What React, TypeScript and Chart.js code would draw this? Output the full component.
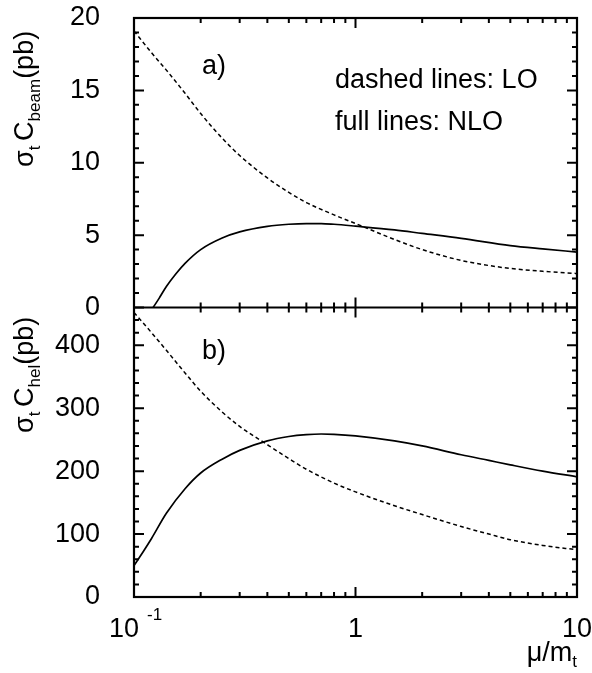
import React, { useEffect, useRef } from 'react';
import { Chart, registerables } from 'chart.js';

Chart.register(...registerables);

// ---- data ----
const xTickValues = [0.1, 1, 10];
const topYTicks = [0, 5, 10, 15, 20];
const botYTicks = [0, 100, 200, 300, 400];

// panel a) sigma_t C_beam (pb)
const beamLoX = [0.1, 0.12, 0.14, 0.17, 0.2, 0.25, 0.3, 0.4, 0.5, 0.6, 0.8, 1, 1.5, 2, 3, 4, 5, 7, 10];
const beamLoY = [19.1, 17.6, 16.4, 14.8, 13.4, 11.7, 10.5, 8.95, 7.95, 7.25, 6.4, 5.8, 4.7, 4.0, 3.25, 2.9, 2.7, 2.5, 2.35];
const beamNloX = [0.122, 0.13, 0.14, 0.155, 0.17, 0.2, 0.25, 0.3, 0.4, 0.5, 0.6, 0.7, 0.8, 1, 1.5, 2, 3, 5, 7, 10];
const beamNloY = [0, 0.65, 1.45, 2.35, 3.05, 4.0, 4.8, 5.22, 5.6, 5.75, 5.8, 5.8, 5.75, 5.62, 5.36, 5.12, 4.78, 4.28, 4.05, 3.83];

// panel b) sigma_t C_hel (pb)
const helLoX = [0.1, 0.12, 0.14, 0.17, 0.2, 0.25, 0.3, 0.4, 0.5, 0.6, 0.8, 1, 1.5, 2, 3, 4, 5, 7, 10];
const helLoY = [452, 420, 392, 356, 327, 294, 271, 242, 220, 203, 181, 167, 145, 131, 112, 100, 91, 82, 75];
const helNloX = [0.1, 0.11, 0.12, 0.14, 0.17, 0.2, 0.25, 0.3, 0.4, 0.5, 0.6, 0.7, 0.8, 1, 1.5, 2, 3, 4, 5, 7, 10];
const helNloY = [50, 72, 93, 133, 172, 197, 219, 233, 248, 255, 258, 259, 258.5, 256, 248, 240, 226, 217, 210, 200, 191];

const FONT = '"Liberation Sans", Arial, Helvetica, sans-serif';
const MAIN = 27;
const SUB = 17;

type Part = [string, number, number];

function drawParts(ctx: CanvasRenderingContext2D, parts: Part[], x: number, y: number) {
  let cx = x;
  for (const [txt, size, dy] of parts) {
    ctx.font = `${size}px ${FONT}`;
    ctx.fillText(txt, cx, y + dy);
    cx += ctx.measureText(txt).width;
  }
}

function partsWidth(ctx: CanvasRenderingContext2D, parts: Part[]) {
  let w = 0;
  for (const [txt, size] of parts) {
    ctx.font = `${size}px ${FONT}`;
    w += ctx.measureText(txt).width;
  }
  return w;
}

const zeroPad = (s: any) => {
  s.paddingTop = 0;
  s.paddingBottom = 0;
  s.paddingLeft = 0;
  s.paddingRight = 0;
};

export default function App() {
  const ref = useRef<HTMLCanvasElement>(null);

  useEffect(() => {
    document.body.style.margin = '0';
    const canvas = ref.current;
    if (!canvas) return;
    const pts = (xs: number[], ys: number[]) => xs.map((x, i) => ({ x, y: ys[i] }));

    const framePlugin = {
      id: 'frame',
      afterDraw(chart: any) {
        const ctx: CanvasRenderingContext2D = chart.ctx;
        const xs = chart.scales.x;
        const yt = chart.scales.yTop;
        const yb = chart.scales.yBot;
        const L = xs.left;
        const R = xs.right;
        ctx.save();
        ctx.strokeStyle = '#000';
        ctx.fillStyle = '#000';
        ctx.lineCap = 'butt';

        // ticks
        ctx.lineWidth = 2;
        const panels = [
          { s: yt, minor: 1, major: 5, max: 20 },
          { s: yb, minor: 20, major: 100, max: 460 },
        ];
        const xMinor: { v: number; major: boolean }[] = [];
        for (const dec of [0.1, 1]) {
          for (let k = 1; k <= 9; k++) xMinor.push({ v: k * dec, major: k === 1 });
        }
        xMinor.push({ v: 10, major: true });

        ctx.beginPath();
        for (const p of panels) {
          for (let i = 0; i * p.minor <= p.max; i++) {
            const v = i * p.minor;
            const len = v % p.major === 0 ? 10 : 5;
            const py = p.s.getPixelForValue(v);
            ctx.moveTo(L, py);
            ctx.lineTo(L + len, py);
            ctx.moveTo(R, py);
            ctx.lineTo(R - len, py);
          }
          for (const t of xMinor) {
            const px = xs.getPixelForValue(t.v);
            const len = t.major ? 10 : 5;
            ctx.moveTo(px, p.s.top);
            ctx.lineTo(px, p.s.top + len);
            ctx.moveTo(px, p.s.bottom);
            ctx.lineTo(px, p.s.bottom - len);
          }
        }
        ctx.stroke();

        // frame
        ctx.lineWidth = 2.2;
        ctx.strokeRect(L, yt.top, R - L, yb.bottom - yt.top);
        ctx.beginPath();
        ctx.moveTo(L, yt.bottom);
        ctx.lineTo(R, yt.bottom);
        ctx.stroke();

        // texts
        ctx.textAlign = 'left';
        ctx.textBaseline = 'alphabetic';
        ctx.font = `${MAIN}px ${FONT}`;
        ctx.fillText('a)', 202, 74);
        ctx.fillText('dashed lines: LO', 335, 88);
        ctx.fillText('full lines: NLO', 335, 130);
        ctx.fillText('b)', 202, 359);

        // 10^-1 label
        ctx.font = `${MAIN}px ${FONT}`;
        ctx.fillText('10', 109, 637);
        ctx.font = `${SUB}px ${FONT}`;
        ctx.fillText('-1', 147, 620);

        // x title
        const xt: Part[] = [['μ/m', MAIN, 0], ['t', SUB, 6]];
        const w = partsWidth(ctx, xt);
        drawParts(ctx, xt, 577 - w, 661);

        // y titles (rotated)
        const yTitle = (x: number, y: number, sub: string) => {
          ctx.save();
          ctx.translate(x, y);
          ctx.rotate(-Math.PI / 2);
          drawParts(ctx, [
            ['σ', MAIN, 0],
            ['t', SUB, 7],
            [' ', SUB, 0],
            ['C', MAIN, 0],
            [sub, SUB, 7],
            ['(pb)', MAIN, 0],
          ], 0, 0);
          ctx.restore();
        };
        yTitle(33, 167, 'beam');
        yTitle(33, 433, 'hel');
        ctx.restore();
      },
    };

    const line = (data: any, yAxisID: string, dashed: boolean) => ({
      data,
      xAxisID: 'x',
      yAxisID,
      borderColor: '#000',
      borderWidth: dashed ? 1.5 : 1.7,
      borderDash: dashed ? [4, 3] : [],
      pointRadius: 0,
      fill: false,
      cubicInterpolationMode: 'monotone' as const,
    });

    const yCommon = (min: number, max: number, values: number[]) => ({
      type: 'linear' as const,
      position: 'left' as const,
      stack: 'panels',
      stackWeight: 1,
      min,
      max,
      grid: { display: false, drawTicks: false },
      border: { display: false },
      afterBuildTicks: (s: any) => {
        s.ticks = values.map((v) => ({ value: v }));
      },
      afterFit: (s: any) => {
        s.width = 134;
        zeroPad(s);
      },
      ticks: {
        padding: 34,
        color: '#000',
        font: { size: MAIN, family: FONT },
      },
    });

    const chart = new Chart(canvas, {
      type: 'line',
      data: {
        datasets: [
          line(pts(beamLoX, beamLoY), 'yTop', true),
          line(pts(beamNloX, beamNloY), 'yTop', false),
          line(pts(helLoX, helLoY), 'yBot', true),
          line(pts(helNloX, helNloY), 'yBot', false),
        ] as any,
      },
      options: {
        animation: false,
        responsive: false,
        events: [],
        layout: { padding: { top: 18, right: 15, left: 0, bottom: 0 } },
        plugins: { legend: { display: false }, tooltip: { enabled: false } },
        scales: {
          x: {
            type: 'logarithmic',
            position: 'bottom',
            min: 0.1,
            max: 10,
            grid: { display: false, drawTicks: false },
            border: { display: false },
            afterBuildTicks: (s: any) => {
              s.ticks = xTickValues.map((v) => ({ value: v }));
            },
            afterFit: (s: any) => {
              s.height = 76;
              zeroPad(s);
            },
            ticks: {
              autoSkip: false,
              maxRotation: 0,
              padding: 16,
              color: '#000',
              font: { size: MAIN, family: FONT },
              callback: (v: any) => (v === 1 ? '1' : v === 10 ? '10' : ''),
            },
          },
          yBot: yCommon(0, 460, botYTicks),
          yTop: yCommon(0, 20, topYTicks),
        } as any,
      },
      plugins: [framePlugin],
    });
    return () => chart.destroy();
  }, []);

  return (
    <div style={{ width: 592, height: 673 }}>
      <canvas ref={ref} width={592} height={673} style={{ display: 'block' }} />
    </div>
  );
}
